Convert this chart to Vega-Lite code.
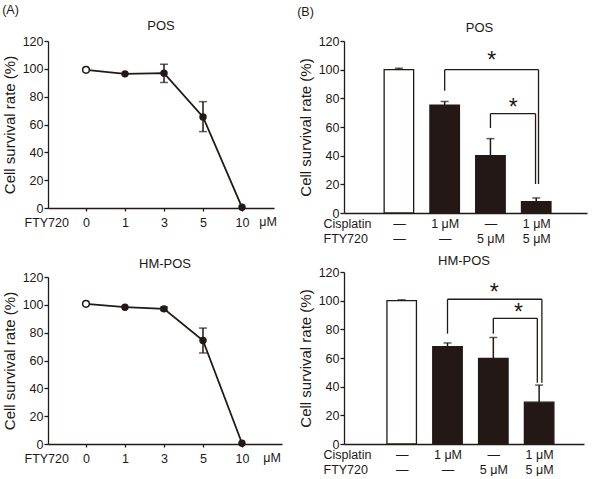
{
  "$schema": "https://vega.github.io/schema/vega-lite/v6.json",
  "background": "white",
  "padding": {"left": 2, "top": 3, "right": 2, "bottom": 0},
  "config": {
    "font": "Liberation Sans",
    "view": {"stroke": null},
    "axis": {"grid": false, "domainColor": "#231815", "domainWidth": 1.3, "tickColor": "#231815", "tickWidth": 1.3, "labelColor": "#231815", "labelFontSize": 12.5, "labelFont": "Liberation Sans", "titleColor": "#231815", "titleFontSize": 15, "titleFontWeight": "normal", "titleFont": "Liberation Sans"},
    "axisY": {"values": [0, 20, 40, 60, 80, 100, 120], "tickSize": 4, "labelPadding": 1, "titlePadding": 5},
    "title": {"fontSize": 13, "fontWeight": 100, "color": "#231815", "font": "Liberation Sans"},
    "style": {"group-title": {"fontWeight": 100, "fontSize": 13}}
  },
  "datasets": {
    "a1": [
      {"dose": "0", "rate": 99.3, "ctrl": true},
      {"dose": "1", "rate": 96.4, "ctrl": false},
      {"dose": "3", "rate": 96.9, "ctrl": false},
      {"dose": "5", "rate": 65.4, "ctrl": false},
      {"dose": "10", "rate": 0.5, "ctrl": false}
    ],
    "a1err": [
      {"dose": "3", "lo": 90.2, "hi": 103.3},
      {"dose": "5", "lo": 54.9, "hi": 76.4}
    ],
    "a2": [
      {"dose": "0", "rate": 100.7, "ctrl": true},
      {"dose": "1", "rate": 98.3, "ctrl": false},
      {"dose": "3", "rate": 97.1, "ctrl": false},
      {"dose": "5", "rate": 74.4, "ctrl": false},
      {"dose": "10", "rate": 0.5, "ctrl": false}
    ],
    "a2err": [
      {"dose": "3", "lo": 95.9, "hi": 98.4},
      {"dose": "5", "lo": 65.4, "hi": 83.3}
    ],
    "b1": [
      {"pos": 1, "cisplatin": "—", "fty720": "—", "rate": 100, "err": 101},
      {"pos": 2, "cisplatin": "1 μM", "fty720": "—", "rate": 75.3, "err": 77.8},
      {"pos": 3, "cisplatin": "—", "fty720": "5 μM", "rate": 40, "err": 51.9},
      {"pos": 4, "cisplatin": "1 μM", "fty720": "5 μM", "rate": 7.9, "err": 10.5}
    ],
    "b1seg": [
      {"br": "big", "pos": 2, "pos2": 2, "y": 85.3, "y2": 100},
      {"br": "big", "pos": 2, "pos2": 4.05, "y": 100, "y2": 100},
      {"br": "big", "pos": 4.05, "pos2": 4.05, "y": 100, "y2": 20.2},
      {"br": "small", "pos": 3, "pos2": 3, "y": 59.3, "y2": 69.3},
      {"br": "small", "pos": 3, "pos2": 3.985, "y": 69.3, "y2": 69.3},
      {"br": "small", "pos": 3.985, "pos2": 3.985, "y": 69.3, "y2": 20.2}
    ],
    "b1star": [
      {"pos": 3.03, "y": 109.3, "t": "*"},
      {"pos": 3.5, "y": 76.7, "t": "*"}
    ],
    "b2": [
      {"pos": 1, "cisplatin": "—", "fty720": "—", "rate": 100, "err": 100.6},
      {"pos": 2, "cisplatin": "1 μM", "fty720": "—", "rate": 68, "err": 70.5},
      {"pos": 3, "cisplatin": "—", "fty720": "5 μM", "rate": 59.8, "err": 74.3},
      {"pos": 4, "cisplatin": "1 μM", "fty720": "5 μM", "rate": 29.2, "err": 41.1}
    ],
    "b2seg": [
      {"br": "big", "pos": 2, "pos2": 2, "y": 77, "y2": 101},
      {"br": "big", "pos": 2, "pos2": 4.06, "y": 101, "y2": 101},
      {"br": "big", "pos": 4.06, "pos2": 4.06, "y": 101, "y2": 42.8},
      {"br": "small", "pos": 3, "pos2": 3, "y": 77, "y2": 87.7},
      {"br": "small", "pos": 3, "pos2": 3.96, "y": 87.7, "y2": 87.7},
      {"br": "small", "pos": 3.96, "pos2": 3.96, "y": 87.7, "y2": 42.8}
    ],
    "b2star": [
      {"pos": 3.02, "y": 108.7, "t": "*"},
      {"pos": 3.55, "y": 94.7, "t": "*"}
    ]
  },
  "hconcat": [
    {
      "title": {"text": "(A)", "anchor": "start", "fontSize": 12.5, "fontWeight": 100, "offset": 4},
      "spacing": 29,
      "vconcat": [
        {
          "title": {"text": "POS", "offset": 2, "fontWeight": 100},
          "width": 226, "height": 167,
          "encoding": {
            "x": {"field": "dose", "type": "ordinal", "sort": ["0", "1", "3", "5", "10"],
              "scale": {"type": "point", "padding": 0.897, "align": 0.543},
              "axis": {"title": "FTY720", "labelAngle": 0, "tickSize": 3, "labelPadding": 5, "titleAlign": "left", "titleAnchor": "start", "titleX": -24, "titleY": 14, "titleBaseline": "middle", "titleFontSize": 12.5}}
          },
          "layer": [
            {"data": {"name": "a1"}, "mark": {"type": "line", "color": "#231815", "strokeWidth": 1.8},
             "encoding": {"y": {"field": "rate", "type": "quantitative", "scale": {"domain": [0, 120], "nice": false}, "axis": {"title": "Cell survival rate (%)"}}}},
            {"data": {"name": "a1err"}, "mark": {"type": "rule", "color": "#231815", "strokeWidth": 1.5},
             "encoding": {"y": {"field": "lo", "type": "quantitative"}, "y2": {"field": "hi"}}},
            {"data": {"name": "a1err"}, "mark": {"type": "tick", "orient": "horizontal", "size": 8, "thickness": 1.5, "color": "#231815"},
             "encoding": {"y": {"field": "lo", "type": "quantitative"}}},
            {"data": {"name": "a1err"}, "mark": {"type": "tick", "orient": "horizontal", "size": 8, "thickness": 1.5, "color": "#231815"},
             "encoding": {"y": {"field": "hi", "type": "quantitative"}}},
            {"data": {"name": "a1"}, "transform": [{"filter": "!datum.ctrl"}], "mark": {"type": "point", "filled": true, "size": 55, "color": "#231815", "opacity": 1},
             "encoding": {"y": {"field": "rate", "type": "quantitative"}}},
            {"data": {"name": "a1"}, "transform": [{"filter": "datum.ctrl"}], "mark": {"type": "point", "filled": false, "fill": "white", "size": 45, "stroke": "#231815", "strokeWidth": 1.5, "opacity": 1},
             "encoding": {"y": {"field": "rate", "type": "quantitative"}}},
            {"data": {"values": [{"dose": "10", "unit": "μM"}]}, "mark": {"type": "text", "dx": 26, "dy": 14, "baseline": "middle", "fontSize": 12.5, "color": "#231815"},
             "encoding": {"y": {"datum": 0}, "text": {"field": "unit"}}}
          ]
        },
        {
          "title": {"text": "HM-POS", "offset": 0, "fontWeight": 100},
          "width": 234, "height": 167,
          "encoding": {
            "x": {"field": "dose", "type": "ordinal", "sort": ["0", "1", "3", "5", "10"],
              "scale": {"type": "point", "padding": 1.0, "align": 0.487},
              "axis": {"title": "FTY720", "labelAngle": 0, "tickSize": 3, "labelPadding": 5, "titleAlign": "left", "titleAnchor": "start", "titleX": -24, "titleY": 14, "titleBaseline": "middle", "titleFontSize": 12.5}}
          },
          "layer": [
            {"data": {"name": "a2"}, "mark": {"type": "line", "color": "#231815", "strokeWidth": 1.8},
             "encoding": {"y": {"field": "rate", "type": "quantitative", "scale": {"domain": [0, 120], "nice": false}, "axis": {"title": "Cell survival rate (%)"}}}},
            {"data": {"name": "a2err"}, "mark": {"type": "rule", "color": "#231815", "strokeWidth": 1.5},
             "encoding": {"y": {"field": "lo", "type": "quantitative"}, "y2": {"field": "hi"}}},
            {"data": {"name": "a2err"}, "mark": {"type": "tick", "orient": "horizontal", "size": 8, "thickness": 1.5, "color": "#231815"},
             "encoding": {"y": {"field": "lo", "type": "quantitative"}}},
            {"data": {"name": "a2err"}, "mark": {"type": "tick", "orient": "horizontal", "size": 8, "thickness": 1.5, "color": "#231815"},
             "encoding": {"y": {"field": "hi", "type": "quantitative"}}},
            {"data": {"name": "a2"}, "transform": [{"filter": "!datum.ctrl"}], "mark": {"type": "point", "filled": true, "size": 55, "color": "#231815", "opacity": 1},
             "encoding": {"y": {"field": "rate", "type": "quantitative"}}},
            {"data": {"name": "a2"}, "transform": [{"filter": "datum.ctrl"}], "mark": {"type": "point", "filled": false, "fill": "white", "size": 45, "stroke": "#231815", "strokeWidth": 1.5, "opacity": 1},
             "encoding": {"y": {"field": "rate", "type": "quantitative"}}},
            {"data": {"values": [{"dose": "10", "unit": "μM"}]}, "mark": {"type": "text", "dx": 30, "dy": 14, "baseline": "middle", "fontSize": 12.5, "color": "#231815"},
             "encoding": {"y": {"datum": 0}, "text": {"field": "unit"}}}
          ]
        }
      ]
    },
    {
      "title": {"text": "(B)", "anchor": "start", "fontSize": 12.5, "fontWeight": 100, "offset": 4, "dx": -1},
      "spacing": 10,
      "vconcat": [
        {
          "title": {"text": "POS", "offset": 0, "dx": 14, "fontWeight": 100},
          "width": 243, "height": 172,
          "encoding": {
            "x": {"field": "pos", "type": "quantitative", "scale": {"domain": [-0.09, 5.0], "nice": false, "zero": false},
              "axis": {"values": [1, 2, 3, 4], "ticks": false, "tickSize": 0, "labelPadding": 4.5, "labelLineHeight": 15, "labelFontSize": 12.5,
                "labelExpr": "datum.value == 1 ? ['—', '—'] : datum.value == 2 ? ['1 μM', '—'] : datum.value == 3 ? ['—', '5 μM'] : ['1 μM', '5 μM']",
                "title": ["Cisplatin", "FTY720"], "titleLineHeight": 15, "titleAlign": "left", "titleAnchor": "start", "titleX": -21, "titleY": 4.5, "titleBaseline": "top", "titleFontSize": 12.5}}
          },
          "layer": [
            {"data": {"name": "b1"}, "mark": {"type": "bar", "orient": "vertical", "width": 29.5, "stroke": "#231815", "strokeWidth": 1.3},
             "encoding": {"y": {"field": "rate", "type": "quantitative", "scale": {"domain": [0, 120], "nice": false}, "axis": {"title": "Cell survival rate (%)"}},
               "fill": {"condition": {"test": "datum.pos == 1", "value": "white"}, "value": "#231815"}}},
            {"data": {"name": "b1"}, "mark": {"type": "rule", "color": "#231815", "strokeWidth": 1.5},
             "encoding": {"y": {"field": "rate", "type": "quantitative"}, "y2": {"field": "err"}}},
            {"data": {"name": "b1"}, "mark": {"type": "tick", "orient": "horizontal", "size": 8, "thickness": 1.5, "color": "#231815"},
             "encoding": {"y": {"field": "err", "type": "quantitative"}}},
            {"data": {"name": "b1seg"}, "mark": {"type": "rule", "color": "#231815", "strokeWidth": 1.3},
             "encoding": {"x2": {"field": "pos2"}, "y": {"field": "y", "type": "quantitative"}, "y2": {"field": "y2"}}},
            {"data": {"name": "b1star"}, "mark": {"type": "text", "fontSize": 23, "baseline": "middle", "dy": 5, "color": "#231815"},
             "encoding": {"y": {"field": "y", "type": "quantitative"}, "text": {"field": "t"}}}
          ]
        },
        {
          "title": {"text": "HM-POS", "offset": -2, "fontWeight": 100},
          "width": 240, "height": 172,
          "encoding": {
            "x": {"field": "pos", "type": "quantitative", "scale": {"domain": [-0.15, 4.87], "nice": false, "zero": false},
              "axis": {"values": [1, 2, 3, 4], "ticks": false, "tickSize": 0, "labelPadding": 4.5, "labelLineHeight": 15, "labelFontSize": 12.5,
                "labelExpr": "datum.value == 1 ? ['—', '—'] : datum.value == 2 ? ['1 μM', '—'] : datum.value == 3 ? ['—', '5 μM'] : ['1 μM', '5 μM']",
                "title": ["Cisplatin", "FTY720"], "titleLineHeight": 15, "titleAlign": "left", "titleAnchor": "start", "titleX": -21, "titleY": 4.5, "titleBaseline": "top", "titleFontSize": 12.5}}
          },
          "layer": [
            {"data": {"name": "b2"}, "mark": {"type": "bar", "orient": "vertical", "width": 29.5, "stroke": "#231815", "strokeWidth": 1.3},
             "encoding": {"y": {"field": "rate", "type": "quantitative", "scale": {"domain": [0, 120], "nice": false}, "axis": {"title": "Cell survival rate (%)"}},
               "fill": {"condition": {"test": "datum.pos == 1", "value": "white"}, "value": "#231815"}}},
            {"data": {"name": "b2"}, "mark": {"type": "rule", "color": "#231815", "strokeWidth": 1.5},
             "encoding": {"y": {"field": "rate", "type": "quantitative"}, "y2": {"field": "err"}}},
            {"data": {"name": "b2"}, "mark": {"type": "tick", "orient": "horizontal", "size": 8, "thickness": 1.5, "color": "#231815"},
             "encoding": {"y": {"field": "err", "type": "quantitative"}}},
            {"data": {"name": "b2seg"}, "mark": {"type": "rule", "color": "#231815", "strokeWidth": 1.3},
             "encoding": {"x2": {"field": "pos2"}, "y": {"field": "y", "type": "quantitative"}, "y2": {"field": "y2"}}},
            {"data": {"name": "b2star"}, "mark": {"type": "text", "fontSize": 23, "baseline": "middle", "dy": 5, "color": "#231815"},
             "encoding": {"y": {"field": "y", "type": "quantitative"}, "text": {"field": "t"}}}
          ]
        }
      ]
    }
  ],
  "spacing": 15
}
